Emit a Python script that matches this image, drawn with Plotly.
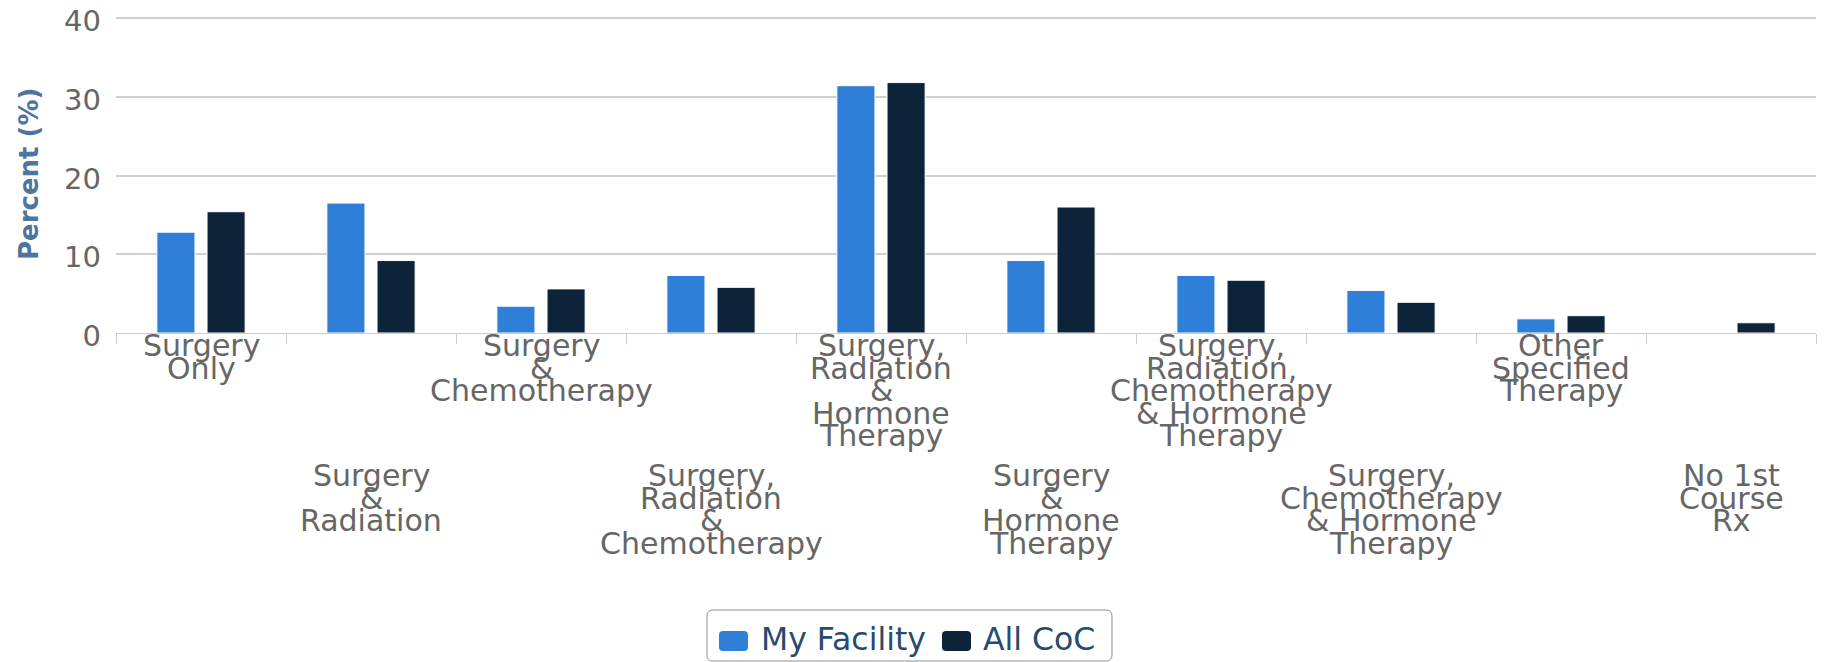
import plotly.graph_objects as go

# ---------------- data ----------------
categories = [
    "Surgery Only",
    "Surgery & Radiation",
    "Surgery & Chemotherapy",
    "Surgery, Radiation & Chemotherapy",
    "Surgery, Radiation & Hormone Therapy",
    "Surgery & Hormone Therapy",
    "Surgery, Radiation, Chemotherapy & Hormone Therapy",
    "Surgery, Chemotherapy & Hormone Therapy",
    "Other Specified Therapy",
    "No 1st Course Rx",
]
tick_labels = [
    "Surgery<br>Only",
    "Surgery<br>&<br>Radiation",
    "Surgery<br>&<br>Chemotherapy",
    "Surgery,<br>Radiation<br>&<br>Chemotherapy",
    "Surgery,<br>Radiation<br>&<br>Hormone<br>Therapy",
    "Surgery<br>&<br>Hormone<br>Therapy",
    "Surgery,<br>Radiation,<br>Chemotherapy<br>& Hormone<br>Therapy",
    "Surgery,<br>Chemotherapy<br>& Hormone<br>Therapy",
    "Other<br>Specified<br>Therapy",
    "No 1st<br>Course<br>Rx",
]
my_facility = [12.8, 16.5, 3.4, 7.3, 31.4, 9.2, 7.3, 5.4, 1.8, 0.0]
all_coc = [15.4, 9.2, 5.6, 5.8, 31.8, 16.0, 6.7, 3.9, 2.2, 1.3]
series_names = ["My Facility", "All CoC"]
y_ticks = [0, 10, 20, 30, 40]

# ---------------- style ----------------
OFF = 8  # page body margin
PLOT_LEFT, PLOT_BOTTOM, PLOT_TOP = 116, 333, 10  # reference pixels
PX_PER_UNIT = 315 / 40
W, H = 1826 - OFF, 662 - OFF
L, R, T = PLOT_LEFT - OFF, 10, PLOT_TOP - OFF
B = H - (PLOT_BOTTOM - OFF)
PW, PH = W - L - R, H - T - B
YMAX = PH / PX_PER_UNIT
BLUE, DARK = "#2f7ed8", "#0d233a"
FONT = "DejaVu Sans"
LABEL_COLOR = "#666666"


def px_y(ypix):
    return (PLOT_BOTTOM - ypix) / PH


def px_x(xpix):
    return (xpix - PLOT_LEFT) / PW


fig = go.Figure()
fig.add_trace(go.Bar(x=categories, y=my_facility, name=series_names[0],
                     marker=dict(color=BLUE, line=dict(color="white", width=1)),
                     showlegend=False))
fig.add_trace(go.Bar(x=categories, y=all_coc, name=series_names[1],
                     marker=dict(color=DARK, line=dict(color="white", width=1)),
                     showlegend=False))

annotations = []
# staggered category labels (one annotation per text line)
FS = 30
PITCH = 22.5
row_base = [356, 486]
for i, (cat, lab) in enumerate(zip(categories, tick_labels)):
    base = row_base[i % 2]
    for j, line in enumerate(lab.split("<br>")):
        bl = base + j * PITCH
        annotations.append(dict(
            x=cat, xref="x", y=px_y(bl - 0.35 * FS), yref="paper",
            text=line, showarrow=False, xanchor="center", yanchor="middle",
            font=dict(family=FONT, size=FS, color=LABEL_COLOR),
        ))

# y-axis title
annotations.append(dict(
    x=px_x(29), xref="paper", y=px_y(174), yref="paper",
    text="<b>Percent (%)</b>", textangle=-90, showarrow=False,
    xanchor="center", yanchor="middle",
    font=dict(family=FONT, size=26, color="#4d759e"),
))

# custom legend
shapes = []


def rounded(x0, y0, x1, y1, r):
    return (f"M {x0 + r},{y0} L {x1 - r},{y0} Q {x1},{y0} {x1},{y0 + r} "
            f"L {x1},{y1 - r} Q {x1},{y1} {x1 - r},{y1} L {x0 + r},{y1} "
            f"Q {x0},{y1} {x0},{y1 - r} L {x0},{y0 + r} Q {x0},{y0} {x0 + r},{y0} Z")


def conv_path(p):
    out = []
    for tok in p.split(" "):
        if "," in tok:
            a, b = tok.split(",")
            out.append(f"{px_x(float(a)):.6f},{px_y(float(b)):.6f}")
        else:
            out.append(tok)
    return " ".join(out)


shapes.append(dict(type="path", xref="paper", yref="paper",
                   path=conv_path(rounded(707, 610, 1112, 661, 6)),
                   line=dict(color="#909090", width=1), fillcolor="rgba(0,0,0,0)"))

LFS = 31.5
legend_items = [(series_names[0], BLUE, 719, 759), (series_names[1], DARK, 942, 981)]
for name, col, sx, tx in legend_items:
    shapes.append(dict(type="path", xref="paper", yref="paper",
                       path=conv_path(rounded(sx, 631, sx + 29, 651, 4)),
                       line=dict(color=col, width=0), fillcolor=col))
    annotations.append(dict(
        x=px_x(tx), xref="paper", y=px_y(650 - 0.35 * LFS), yref="paper",
        text=name, showarrow=False, xanchor="left", yanchor="middle",
        font=dict(family=FONT, size=LFS, color="#274b6d"),
    ))

fig.update_layout(
    width=W, height=H, autosize=False,
    margin=dict(l=L, r=R, t=T, b=B, pad=0, autoexpand=False),
    paper_bgcolor="white", plot_bgcolor="white",
    barmode="group", bargap=0.41, bargroupgap=0.24,
    showlegend=False,
    font=dict(family=FONT),
    annotations=annotations, shapes=shapes,
    xaxis=dict(
        showticklabels=False, tickson="boundaries", ticks="outside",
        ticklen=10, tickcolor="#c0d0e0", tickwidth=1,
        showline=True, linecolor="#c0d0e0", linewidth=1,
        showgrid=False, zeroline=False, fixedrange=True, automargin=False,
    ),
    yaxis=dict(
        range=[0, YMAX], tickvals=y_ticks, ticktext=[str(v) for v in y_ticks],
        showgrid=True, gridcolor="#d0d0d0", gridwidth=1.5,
        zeroline=False, showline=False, ticks="",
        ticklabelstandoff=14, ticklabeloverflow="allow", automargin=False,
        ticklabelshift=3,
        tickfont=dict(family=FONT, size=29, color=LABEL_COLOR),
    ),
)

fig.write_html("out.html")
